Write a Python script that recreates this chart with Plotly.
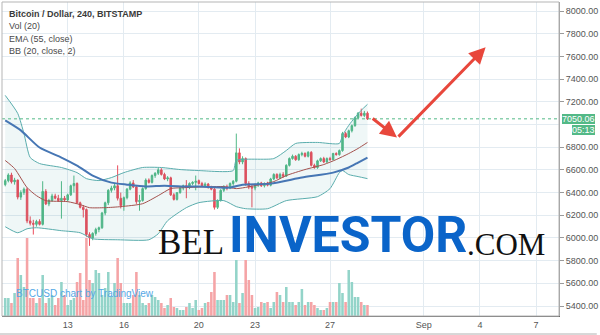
import plotly.graph_objects as go
import pandas as pd

# ---------------- data (BTCUSD, 4h candles, Bitstamp) ----------------
start_time = "2018-08-09 16:00"
n_candles = 117
opens = [6470,6505,6555,6495,6510,6360,6400,6430,6150,6130,6120,6145,6120,6410,6300,6330,6370,6350,6330,6350,
         6335,6380,6460,6480,6310,6270,6250,6030,6000,6040,6075,6090,6220,6310,6420,6440,6460,6350,6285,6355,
         6430,6485,6450,6320,6330,6435,6510,6490,6550,6570,6600,6560,6520,6530,6380,6340,6400,6440,6460,6445,
         6480,6490,6505,6480,6460,6475,6445,6430,6270,6330,6420,6450,6440,6480,6500,6750,6670,6700,6480,6450,
         6440,6470,6485,6460,6480,6465,6520,6560,6530,6560,6545,6640,6700,6720,6690,6735,6745,6720,6755,6640,
         6620,6680,6700,6670,6700,6690,6745,6735,6770,6920,6890,6945,6990,7060,7100,7080,7100]
highs = [6520,6570,6575,6530,6515,6420,6445,6445,6190,6160,6160,6165,6500,6430,6345,6390,6390,6380,6500,6370,
         6390,6470,6550,6490,6320,6290,6260,6050,6050,6090,6100,6230,6320,6430,6460,6475,6640,6400,6365,6440,
         6500,6510,6460,6380,6445,6525,6525,6560,6580,6620,6615,6575,6545,6540,6395,6400,6450,6470,6510,6490,
         6500,6550,6515,6495,6490,6485,6460,6440,6340,6430,6465,6470,6490,6510,6920,6790,6720,6710,6500,6470,
         6480,6495,6495,6490,6495,6530,6570,6570,6575,6580,6650,6710,6735,6730,6745,6760,6755,6765,6765,6655,
         6690,6710,6715,6710,6715,6750,6755,6780,6935,6935,6955,7000,7070,7110,7140,7120,7115]
lows = [6455,6490,6480,6470,6340,6335,6380,6130,6110,6030,6100,6110,6110,6290,6280,6320,6340,6320,6170,6320,
        6320,6370,6400,6300,6260,6180,6010,5930,5980,6020,6050,6080,6200,6290,6400,6420,6330,6260,6240,6340,
        6420,6440,6300,6240,6320,6425,6480,6480,6530,6555,6550,6510,6500,6370,6330,6330,6390,6420,6350,6430,
        6465,6420,6470,6450,6445,6435,6420,6250,6255,6320,6405,6420,6430,6460,6490,6650,6650,6460,6430,6270,
        6420,6450,6450,6445,6455,6455,6510,6520,6520,6530,6540,6630,6690,6680,6680,6720,6710,6710,6630,6610,
        6610,6670,6660,6660,6680,6685,6725,6725,6760,6880,6880,6930,6980,7050,7070,7065,7040]
closes = [6505,6555,6495,6510,6360,6400,6430,6150,6130,6120,6145,6120,6410,6300,6330,6370,6350,6330,6350,6335,
          6380,6460,6480,6310,6270,6250,6030,6000,6040,6075,6090,6220,6310,6420,6440,6460,6350,6285,6355,6430,
          6485,6450,6320,6330,6435,6510,6490,6550,6570,6600,6560,6520,6530,6380,6340,6400,6440,6460,6445,6480,
          6490,6500,6480,6460,6475,6445,6430,6270,6330,6420,6450,6440,6480,6500,6750,6670,6700,6480,6450,6440,
          6470,6485,6460,6480,6465,6520,6560,6530,6560,6545,6640,6700,6720,6690,6735,6745,6720,6755,6640,6620,
          6680,6700,6670,6700,6690,6745,6735,6770,6920,6890,6945,6990,7060,7100,7080,7100,7050.06]
volumes = [900,900,650,1150,2900,2050,1450,3900,900,900,650,900,2050,650,900,1050,550,900,1700,1050,
           550,800,900,1700,2150,800,3900,1800,1650,2300,2150,1050,1400,2200,1000,1650,2900,1650,650,650,
           650,1050,2200,1050,650,550,650,1050,950,800,650,400,550,900,450,400,300,300,450,650,
           400,800,300,400,650,700,1200,2200,800,800,800,1050,1050,700,2800,650,1150,2800,1800,1050,
           400,450,700,650,700,400,700,1200,1050,700,1450,700,700,550,700,1350,550,700,700,550,
           400,300,300,400,700,700,700,1650,1150,700,2300,1700,950,950,700,550,550]

# Bollinger Bands (20, close, 2) and EMA(55) (candle index -> price)
bb_upper_idx = [0,4,6,8,11,18,23,26,30,34,38,44,50,56,62,73,74,86,90,93,100,107,108,110,112,114,116]
bb_upper = [7257,7098,6921,6709,6656,6621,6576,6523,6506,6532,6576,6621,6621,6603,6594,6594,6683,6700,6771,
            6833,6842,6833,6904,6992,7063,7125,7178]
bb_lower_idx = [0,4,7,10,18,24,28,36,46,49,52,58,62,70,74,77,84,90,100,104,107,108,110,113,116]
bb_lower = [6099,6046,6081,6090,6064,6046,5993,5984,5984,6037,6152,6267,6311,6329,6276,6258,6258,6329,6364,
            6435,6576,6594,6559,6541,6523]
bb_basis_idx = [0,3,7,10,13,20,24,27,32,37,44,49,53,58,70,74,80,86,90,96,102,106,110,113,116]
bb_basis = [6683,6612,6444,6373,6329,6320,6294,6267,6267,6276,6302,6373,6435,6444,6453,6435,6461,6497,6550,
            6603,6647,6691,6744,6789,6842]
ema_idx = [0,5,11,18,23,28,34,39,45,51,58,62,72,76,85,95,105,110,113,116]
ema55 = [7036,6948,6797,6709,6638,6550,6488,6470,6453,6461,6453,6453,6444,6470,6479,6532,6576,6621,6665,6709]

# axes
date_tickvals = ["2018-08-13","2018-08-16","2018-08-20","2018-08-23","2018-08-27","2018-09-01","2018-09-04","2018-09-07"]
date_ticktext = ["13","16","20","23","27","Sep","4","7"]
price_grid = [5400,5600,5800,6000,6200,6400,6600,6800,7000,7200,7400,7600,7800,8000]
price_labels = [5400,5600,5800,6000,6200,6400,6600,6800,7200,7400,7600,7800,8000]  # 7000 hidden by price tag
x_range = ["2018-08-09 11:53", "2018-09-08 05:19"]
y_range = [5312, 8080]
last_price = 7050.06
countdown = "05:13"

# forecast arrow (tail -> head), time / price
arrow1 = (("2018-08-29 04:44", 7063), ("2018-08-30 13:50", 6886))
arrow2 = (("2018-08-30 13:50", 6880), ("2018-09-04 07:20", 7682))

# ---------------- styling ----------------
UP = "#53b987"
DOWN = "#eb4d5c"
VOL_UP = "#93d4c9"
VOL_DOWN = "#f5a4a6"
GRID = "#e3ebf1"
TXT = "#4a4a4a"
FONT = "Liberation Sans, Arial"

times = pd.date_range(start_time, periods=n_candles, freq="4h")
vol_colors = [VOL_UP if c >= o else VOL_DOWN for o, c in zip(opens, closes)]

fig = go.Figure()
fig.add_trace(go.Bar(x=times, y=volumes, marker=dict(color=vol_colors, line=dict(width=0)),
                     width=4 * 3600 * 1000 * 0.82, yaxis="y", hoverinfo="skip"))
fig.add_trace(go.Scatter(x=times[bb_upper_idx], y=bb_upper, mode="lines", yaxis="y2",
                         line=dict(color="#5aadad", width=1, shape="spline", smoothing=0.6), hoverinfo="skip"))
fig.add_trace(go.Scatter(x=times[bb_lower_idx], y=bb_lower, mode="lines", yaxis="y2", fill="tonexty",
                         fillcolor="rgba(25,140,140,0.07)",
                         line=dict(color="#5aadad", width=1, shape="spline", smoothing=0.6), hoverinfo="skip"))
fig.add_trace(go.Candlestick(x=times, open=opens, high=highs, low=lows, close=closes, yaxis="y2",
                             increasing=dict(line=dict(color=UP, width=1), fillcolor=UP),
                             decreasing=dict(line=dict(color=DOWN, width=1), fillcolor=DOWN),
                             whiskerwidth=0, hoverinfo="skip"))
fig.add_trace(go.Scatter(x=times[bb_basis_idx], y=bb_basis, mode="lines", yaxis="y2",
                         line=dict(color="#a4514d", width=1, shape="spline", smoothing=0.6), hoverinfo="skip"))
fig.add_trace(go.Scatter(x=times[ema_idx], y=ema55, mode="lines", yaxis="y2",
                         line=dict(color="#4676b4", width=2, shape="spline", smoothing=0.6), hoverinfo="skip"))

def px_x(px):
    return (px - 2) / 560.0

def px_y(py):
    return (316 - py) / 314.0

annotations = [
    dict(text="<b>Bitcoin / Dollar, 240, BITSTAMP</b>", x=px_x(7), y=px_y(14), font=dict(size=9, color="#3a3a3a")),
    dict(text="Vol (20)", x=px_x(7), y=px_y(26), font=dict(size=9, color=TXT)),
    dict(text="EMA (55, close)", x=px_x(7), y=px_y(39), font=dict(size=9, color=TXT)),
    dict(text="BB (20, close, 2)", x=px_x(7), y=px_y(51), font=dict(size=9, color=TXT)),
    dict(text="BTCUSD chart by TradingView", x=px_x(14), y=px_y(293), font=dict(size=10, color="#55a8e6")),
]
ann = []
for a in annotations:
    ann.append(dict(a, xref="paper", yref="paper", xanchor="left", yanchor="middle", showarrow=False,
                    font=dict(a["font"], family=FONT)))

# logo watermark
ann.append(dict(text="BEL", x=px_x(157), y=px_y(243), xref="paper", yref="paper", xanchor="left",
                yanchor="middle", showarrow=False, font=dict(family="Liberation Serif", size=35, color="#111111")))
ann.append(dict(text="<b>INVESTOR</b>", x=px_x(228), y=px_y(235), xref="paper", yref="paper", xanchor="left",
                yanchor="middle", showarrow=False, font=dict(family="Roboto", size=50, color="#0a64c9")))
ann.append(dict(text=".COM", x=px_x(550), y=px_y(244), xref="paper", yref="paper", xanchor="right",
                yanchor="middle", showarrow=False, font=dict(family="Liberation Serif", size=31, color="#111111")))

# price labels on axis
ann.append(dict(text=f"{last_price:.2f}", x=px_x(598), y=last_price, xref="paper", yref="y2", xanchor="right",
                yanchor="middle", showarrow=False, bgcolor=UP, borderpad=0, borderwidth=0,
                font=dict(family=FONT, size=9, color="white")))
ann.append(dict(text=countdown, x=px_x(598), y=last_price, yshift=-11, xref="paper", yref="y2", xanchor="right",
                yanchor="middle", showarrow=False, bgcolor=UP, borderpad=0, borderwidth=0,
                font=dict(family=FONT, size=9, color="white")))

# forecast arrows
for (tail, head) in (arrow1, arrow2):
    ann.append(dict(x=head[0], y=head[1], ax=tail[0], ay=tail[1], xref="x", yref="y2", axref="x", ayref="y2",
                    text="", showarrow=True, arrowhead=2, arrowsize=1.1, arrowwidth=3, arrowcolor="#e8473c"))

shapes = [
    dict(type="line", xref="paper", yref="y2", x0=0, x1=1, y0=7000, y1=7000, layer="below",
         line=dict(color=GRID, width=1)),
    dict(type="line", xref="paper", yref="y2", x0=0, x1=1, y0=last_price, y1=last_price,
         line=dict(color=UP, width=1, dash="dot")),
    dict(type="rect", xref="paper", yref="paper", x0=0, x1=1, y0=0, y1=1, line=dict(color="#b5b5b5", width=1)),
    dict(type="line", xref="paper", yref="paper", x0=px_x(0), x1=px_x(600), y0=px_y(334), y1=px_y(334),
         line=dict(color="#b0b0b0", width=1)),
]

fig.update_layout(
    width=600, height=335, margin=dict(l=2, r=38, t=2, b=19),
    paper_bgcolor="white", plot_bgcolor="white", showlegend=False, hovermode=False,
    font=dict(family=FONT, color="#555555", size=9),
    xaxis=dict(type="date", range=x_range, tickvals=date_tickvals, ticktext=date_ticktext,
               showgrid=True, gridcolor=GRID, gridwidth=1, zeroline=False, showline=True, linecolor="#666666",
               linewidth=1, ticks="", tickfont=dict(size=9, color="#555555"), rangeslider=dict(visible=False),
               fixedrange=True),
    yaxis=dict(range=[0, 15700], visible=False, showgrid=False, zeroline=False, fixedrange=True),
    yaxis2=dict(overlaying="y", side="right", range=y_range, tickvals=price_labels,
                ticktext=[f"{v:.2f}" for v in price_labels], showgrid=True, gridcolor=GRID, zeroline=False,
                ticks="outside", ticklen=4, tickcolor="#9a9a9a", showline=True, linecolor="#9a9a9a",
                tickfont=dict(size=9, color="#555555"), fixedrange=True),
    annotations=ann, shapes=shapes,
)

fig.write_html("out.html")
